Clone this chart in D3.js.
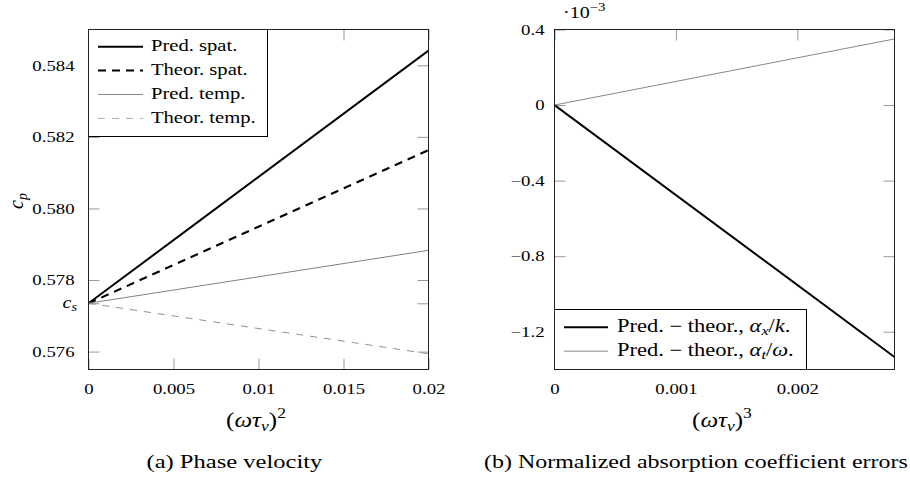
<!DOCTYPE html>
<html><head><meta charset="utf-8">
<script src="https://cdn.jsdelivr.net/npm/d3@7"></script>
<style>
body{margin:0;background:#fff;}
svg text{font-family:"Liberation Serif","Times New Roman",Times,serif !important;}
</style></head>
<body><svg id="c" width="910" height="478" font-family="Liberation Serif"></svg>
<script>
// ---- data ----
const cs = 0.57735;
const xTicksA = [0, 0.005, 0.01, 0.015, 0.02];
const xTickLabelsA = ["0", "0.005", "0.01", "0.015", "0.02"];
const yTicksA = [0.576, 0.578, 0.580, 0.582, 0.584];
const yTickLabelsA = ["0.576", "0.578", "0.580", "0.582", "0.584"];
const xValsA = [0, 0.02];
const predSpat = [0.57735, 0.58441];
const theorSpat = [0.57735, 0.58163];
const predTemp = [0.57735, 0.57883];
const theorTemp = [0.57735, 0.57594];
const seriesNamesA = ["Pred. spat.", "Theor. spat.", "Pred. temp.", "Theor. temp."];

const xTicksB = [0, 0.001, 0.002];
const xTickLabelsB = ["0", "0.001", "0.002"];
const yTicksB = [-1.2, -0.8, -0.4, 0, 0.4];
const yTickLabelsB = ["\u22121.2", "\u22120.8", "\u22120.4", "0", "0.4"];
const xValsB = [0, 0.0028];
const errAlphaX = [0, -1.334];
const errAlphaT = [0, 0.350];

// ---- drawing ----
const SX = 1.25; // horizontal text stretch
const FONT = "'Liberation Serif', 'Times New Roman', Times, serif";
const svg = d3.select("#c");
svg.append("rect").attr("width", 910).attr("height", 478).attr("fill", "#fff");

function panel(o) {
  const g = svg.append("g");
  const x = d3.scaleLinear().domain(o.xd).range([o.x0, o.x1]);
  const y = d3.scaleLinear().domain(o.yd).range([o.y1, o.y0]);
  const tk = 11;
  const styleTicks = sel => {
    sel.attr("font-family", null);
    sel.select(".domain").remove();
    sel.selectAll(".tick line").attr("stroke", "#999").attr("stroke-width", 1);
    sel.selectAll(".tick text").attr("font-size", 15);
  };
  const xl = (d) => o.xLabels[o.xTicks.indexOf(d)];
  const yl = (d) => { const i = o.yTicks.indexOf(d); return i < 0 ? "" : o.yLabels[i]; };
  g.append("g").attr("transform", `translate(0,${o.y1})`)
    .call(d3.axisBottom(x).tickValues(o.xTicks).tickFormat(xl).tickSize(-tk).tickPadding(13.5)).call(styleTicks);
  g.append("g").attr("transform", `translate(0,${o.y0})`)
    .call(d3.axisTop(x).tickValues(o.xTicks).tickFormat("").tickSize(-tk)).call(styleTicks);
  const yv = o.yExtra ? o.yTicks.concat(o.yExtra) : o.yTicks;
  g.append("g").attr("transform", `translate(${o.x0},0)`)
    .call(d3.axisLeft(y).tickValues(yv).tickFormat(yl).tickSize(-tk).tickPadding(o.ypad)).call(styleTicks);
  g.append("g").attr("transform", `translate(${o.x1},0)`)
    .call(d3.axisRight(y).tickValues(yv).tickFormat("").tickSize(-tk)).call(styleTicks);

  const clipId = "clip" + o.id;
  svg.append("clipPath").attr("id", clipId).append("rect")
    .attr("x", o.x0).attr("y", o.y0).attr("width", o.x1 - o.x0).attr("height", o.y1 - o.y0);
  const line = d3.line().x(d => x(d[0])).y(d => y(d[1]));
  o.series.forEach(s => {
    g.append("path").attr("clip-path", `url(#${clipId})`)
      .attr("d", line(o.xv.map((v, i) => [v, s.v[i]])))
      .attr("fill", "none").attr("stroke", s.c).attr("stroke-width", s.w)
      .attr("stroke-dasharray", s.dash || null);
  });
  return { g, x, y };
}

const A = panel({
  id: "a", xd: [0, 0.02], yd: [0.5755, 0.585], x0: 88.5, x1: 428.5, y0: 29.5, y1: 369.5,
  xTicks: xTicksA, xLabels: xTickLabelsA, yTicks: yTicksA, yLabels: yTickLabelsA, yExtra: [cs], ypad: 14,
  xv: xValsA,
  series: [
    { v: predSpat, c: "#000", w: 2 },
    { v: theorSpat, c: "#000", w: 2, dash: "8,6" },
    { v: predTemp, c: "#808080", w: 1 },
    { v: theorTemp, c: "#909090", w: 1, dash: "7,7" }
  ]
});
const B = panel({
  id: "b", xd: [0, 0.0028], yd: [-1.4, 0.4], x0: 554.5, x1: 894.5, y0: 29.5, y1: 369.5,
  xTicks: xTicksB, xLabels: xTickLabelsB, yTicks: yTicksB, yLabels: yTickLabelsB, ypad: 10,
  xv: xValsB,
  series: [
    { v: errAlphaX, c: "#000", w: 2 },
    { v: errAlphaT, c: "#888", w: 1 }
  ]
});

// c_s tick label
const csl = A.g.append("text").attr("x", 77).attr("y", A.y(cs)).attr("dy", "0.3em")
  .attr("text-anchor", "end").attr("font-size", 16);
csl.append("tspan").attr("font-style", "italic").text("c");
csl.append("tspan").attr("font-style", "italic").attr("font-size", 11.5).attr("dy", 3).text("s");

// legend A
const legA = svg.append("g");
legA.append("rect").attr("x", 88.5).attr("y", 29.5).attr("width", 179).attr("height", 107)
  .attr("fill", "#fff").attr("stroke", "#000").attr("stroke-width", 1);
const legStylesA = [
  { c: "#000", w: 2 }, { c: "#000", w: 2, dash: "8,6" },
  { c: "#888", w: 1 }, { c: "#aaa", w: 1, dash: "7,7" }
];
seriesNamesA.forEach((n, i) => {
  const yy = 46.7 + i * 23.9;
  legA.append("line").attr("x1", 98).attr("x2", 143).attr("y1", yy).attr("y2", yy)
    .attr("stroke", legStylesA[i].c).attr("stroke-width", legStylesA[i].w)
    .attr("stroke-dasharray", legStylesA[i].dash || null);
  legA.append("text").attr("x", 151).attr("y", yy + 4.5).attr("font-size", 16.5).text(n);
});

// legend B
const legB = svg.append("g");
legB.append("rect").attr("x", 554.5).attr("y", 309.5).attr("width", 252).attr("height", 60)
  .attr("fill", "#fff").attr("stroke", "#000").attr("stroke-width", 1);
const legTextB = [];
[{ c: "#000", w: 2, sub: "x", den: "k" }, { c: "#b0b0b0", w: 1.4, sub: "t", den: "\u03c9" }].forEach((s, i) => {
  const yy = 327.3 + i * 24;
  legB.append("line").attr("x1", 564).attr("x2", 608).attr("y1", yy).attr("y2", yy)
    .attr("stroke", s.c).attr("stroke-width", s.w);
  const t = legB.append("text").attr("x", 617).attr("y", yy + 4.5).attr("font-size", 18);
  t.append("tspan").text("Pred. \u2212 theor., ");
  t.append("tspan").attr("font-style", "italic").text("\u03b1");
  t.append("tspan").attr("font-style", "italic").attr("font-size", 13).attr("dy", 3).text(s.sub);
  t.append("tspan").attr("dy", -3).text("/");
  t.append("tspan").attr("font-style", "italic").text(s.den);
  t.append("tspan").text(".");
});

// frames
[[88.5, 428.5], [554.5, 894.5]].forEach(([a, b]) => {
  svg.append("rect").attr("x", a).attr("y", 29.5).attr("width", b - a).attr("height", 340)
    .attr("fill", "none").attr("stroke", "#222").attr("stroke-width", 1);
});

// axis labels
function omegaLabel(cx, p) {
  const t = svg.append("text").attr("x", cx).attr("y", 427).attr("text-anchor", "middle").attr("font-size", 20);
  t.append("tspan").text("(");
  t.append("tspan").attr("font-style", "italic").text("\u03c9\u03c4");
  t.append("tspan").attr("font-style", "italic").attr("font-size", 14).attr("dy", 4).text("\u03bd");
  t.append("tspan").attr("dy", -4).text(")");
  t.append("tspan").attr("font-size", 14).attr("dy", -9).text(p);
}
omegaLabel(256, "2");
omegaLabel(722, "3");

// multiplier
const mul = svg.append("text").attr("x", 563).attr("y", 18).attr("font-size", 16);
mul.append("tspan").text("\u00b710");
mul.append("tspan").attr("font-size", 12).attr("dy", -7).text("\u22123");

// captions
const capA = svg.append("text").attr("x", 146.5).attr("y", 468).attr("font-size", 20).text("(a) Phase velocity");
const capB = svg.append("text").attr("x", 484).attr("y", 468).attr("font-size", 20).text("(b) Normalized absorption coefficient errors");

svg.selectAll("text").each(function () { this.style.fontFamily = FONT; });

// fit captions to measured widths in the reference
function fit(sel, w) {
  const n = sel.node();
  const len = n.getComputedTextLength();
  const fs = +sel.attr("font-size");
  if (len > 0) sel.attr("font-size", fs * w / (len * SX));
}
fit(capA, 176);
fit(capB, 424);

// horizontal stretch of all (non-rotated) text around its anchor
svg.selectAll("text").each(function () {
  const x = +(this.getAttribute("x") || 0);
  this.setAttribute("transform", `translate(${x},0) scale(${SX},1) translate(${-x},0)`);
});

// rotated y label
const cp = svg.append("text").attr("transform", "translate(23,201) rotate(-90)")
  .attr("text-anchor", "middle").attr("font-size", 20);
cp.append("tspan").attr("font-style", "italic").text("c");
cp.append("tspan").attr("font-style", "italic").attr("font-size", 14).attr("dy", 4).text("p");
cp.node().style.fontFamily = FONT;
</script></body></html>
